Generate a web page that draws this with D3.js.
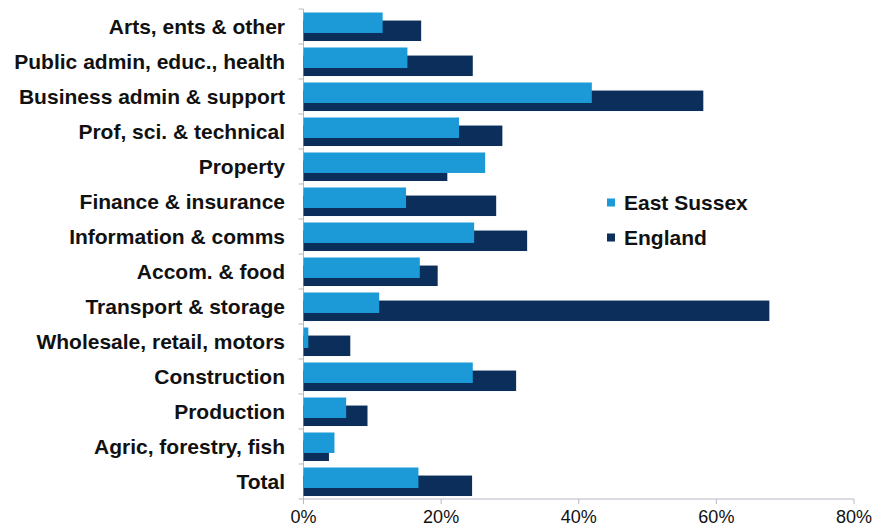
<!DOCTYPE html>
<html><head><meta charset="utf-8">
<script src="https://cdn.jsdelivr.net/npm/d3@7"></script>
<style>body{margin:0;background:#fff;}svg{display:block;font-family:"Liberation Sans",Arial,sans-serif;}</style>
</head><body>
<svg id="c" width="889" height="528"></svg>
<script>
const categories = ["Arts, ents & other","Public admin, educ., health","Business admin & support","Prof, sci. & technical","Property","Finance & insurance","Information & comms","Accom. & food ","Transport & storage","Wholesale, retail, motors","Construction","Production","Agric, forestry, fish","Total"];
const eastSussex = [11.5,15.1,41.9,22.6,26.4,14.9,24.8,16.9,11.0,0.7,24.6,6.2,4.5,16.7];
const england =    [17.1,24.6,58.1,28.9,20.9,28.0,32.5,19.5,67.7,6.8,30.9,9.3,3.7,24.5];
const seriesNames = ["East Sussex","England"];
const colors = ["#1b9ad7","#0b2f5a"];
const xTicks = [0,20,40,60,80];

const svg = d3.select("#c");
const mLeft = 303.5, mRight = 854, mTop = 9, mBottom = 499;
const x = d3.scaleLinear().domain([0,80]).range([mLeft,mRight]);
const y = d3.scaleBand().domain(categories).range([mTop,mBottom]);
const bw = y.bandwidth();
const barH = bw*0.585;

// y axis line + ticks
svg.append("line").attr("x1",mLeft).attr("x2",mLeft).attr("y1",mTop).attr("y2",mBottom).attr("stroke","#b8b8c8").attr("stroke-width",1);
categories.concat([null]).forEach((c,i)=>{
  const yy = mTop + i*bw;
  svg.append("line").attr("x1",mLeft-5).attr("x2",mLeft).attr("y1",yy).attr("y2",yy).attr("stroke","#b8b8c8");
});
// x axis
svg.append("line").attr("x1",mLeft).attr("x2",mRight).attr("y1",mBottom).attr("y2",mBottom).attr("stroke","#b8b8c8");
xTicks.forEach(t=>{
  svg.append("line").attr("x1",x(t)).attr("x2",x(t)).attr("y1",mBottom).attr("y2",mBottom+5).attr("stroke","#b8b8c8");
  svg.append("text").attr("x",x(t)).attr("y",mBottom+24).attr("text-anchor","middle")
    .attr("font-size",18).attr("fill","#111").text(t+"%");
});

// England bars (behind)
svg.selectAll(".eng").data(england).enter().append("rect")
  .attr("x",mLeft).attr("y",(d,i)=>y(categories[i])+bw*0.33)
  .attr("width",d=>x(d)-mLeft).attr("height",barH).attr("fill",colors[1]);
// East Sussex bars (front)
svg.selectAll(".es").data(eastSussex).enter().append("rect")
  .attr("x",mLeft).attr("y",(d,i)=>y(categories[i])+bw*0.1)
  .attr("width",d=>x(d)-mLeft).attr("height",barH).attr("fill",colors[0]);

// category labels
svg.selectAll(".lab").data(categories).enter().append("text")
  .attr("x",285).attr("y",d=>y(d)+bw/2).attr("dy","0.35em")
  .attr("text-anchor","end").attr("font-size",21).attr("font-weight","bold").attr("fill","#111")
  .text(d=>d);

// legend
seriesNames.forEach((s,i)=>{
  const ly = 202.5 + i*35;
  svg.append("rect").attr("x",607).attr("y",ly-4).attr("width",8).attr("height",8).attr("fill",colors[i]);
  svg.append("text").attr("x",624).attr("y",ly).attr("dy","0.35em").attr("font-size",21)
    .attr("font-weight","bold").attr("fill","#111").text(s);
});
</script>
</body></html>
